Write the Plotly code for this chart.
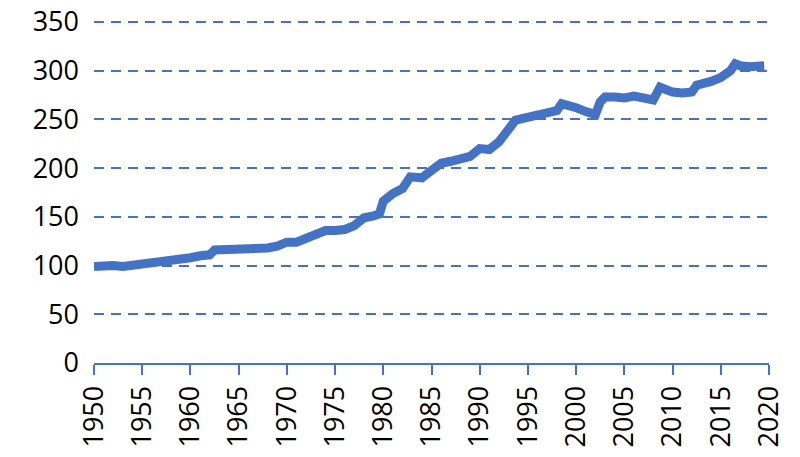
import plotly.graph_objects as go

# Index series (fractional years)
years = [1950, 1951, 1952, 1953, 1954, 1955, 1956, 1957, 1958, 1959,
         1960, 1961, 1962, 1962.5, 1963, 1964, 1965, 1966, 1967, 1968,
         1969, 1970, 1971, 1972, 1973, 1974, 1975, 1976, 1977, 1978,
         1979, 1979.6, 1980, 1981, 1982, 1982.8, 1984, 1985, 1986, 1987,
         1988, 1989, 1990, 1991, 1992, 1993, 1993.7, 1994.5, 1995, 1996,
         1997, 1998, 1998.5, 1999.5, 2000, 2001, 2002, 2002.5, 2003, 2004,
         2005, 2006, 2007, 2008, 2008.7, 2009.4, 2010, 2011, 2012, 2012.5,
         2013, 2014, 2015, 2016, 2016.5, 2017, 2018, 2019, 2019.5]
values = [99, 100, 100, 99, 100, 102, 103, 105, 106, 107,
          108, 110, 111, 116, 116, 117, 117, 118, 118, 118,
          120, 124, 124, 128, 130, 136, 136, 137, 141, 149,
          151, 153, 166, 174, 179, 191, 190, 198, 205, 207,
          209, 212, 220, 219, 227, 238, 249, 251, 252, 255,
          257, 259, 266, 264, 262, 258, 255, 268, 273, 273,
          272, 274, 273, 270, 283, 279, 278, 277, 278, 285,
          286, 289, 293, 300, 307, 305, 304, 304, 305]

blue = "#4472C4"

fig = go.Figure()
fig.add_trace(go.Scatter(
    x=years,
    y=values,
    mode="lines",
    line=dict(color=blue, width=9),
    showlegend=False
))

# page body has an 8px margin, so offsets are compensated here
fig.update_layout(
    width=800,
    height=457,
    paper_bgcolor="white",
    plot_bgcolor="white",
    font=dict(family="Open Sans, Noto Sans, sans-serif", size=27, color="black"),
    margin=dict(l=86, r=39, t=11, b=102),
    xaxis=dict(
        range=[1950, 2020],
        tickmode="linear",
        tick0=1950,
        dtick=5,
        tickangle=-90,
        showgrid=False,
        zeroline=False,
        showline=True,
        linecolor=blue,
        linewidth=2,
        ticks="outside",
        ticklen=10,
        tickwidth=2,
        tickcolor=blue,
        automargin=False,
    ),
    yaxis=dict(
        range=[0, 353],
        tickmode="linear",
        tick0=0,
        dtick=50,
        showgrid=True,
        gridcolor=blue,
        gridwidth=2,
        griddash="10px,7px",
        zeroline=False,
        showline=False,
        ticklabelstandoff=14,
        ticklabeloverflow="allow",
        automargin=False,
    ),
)

fig.write_html("out.html")
